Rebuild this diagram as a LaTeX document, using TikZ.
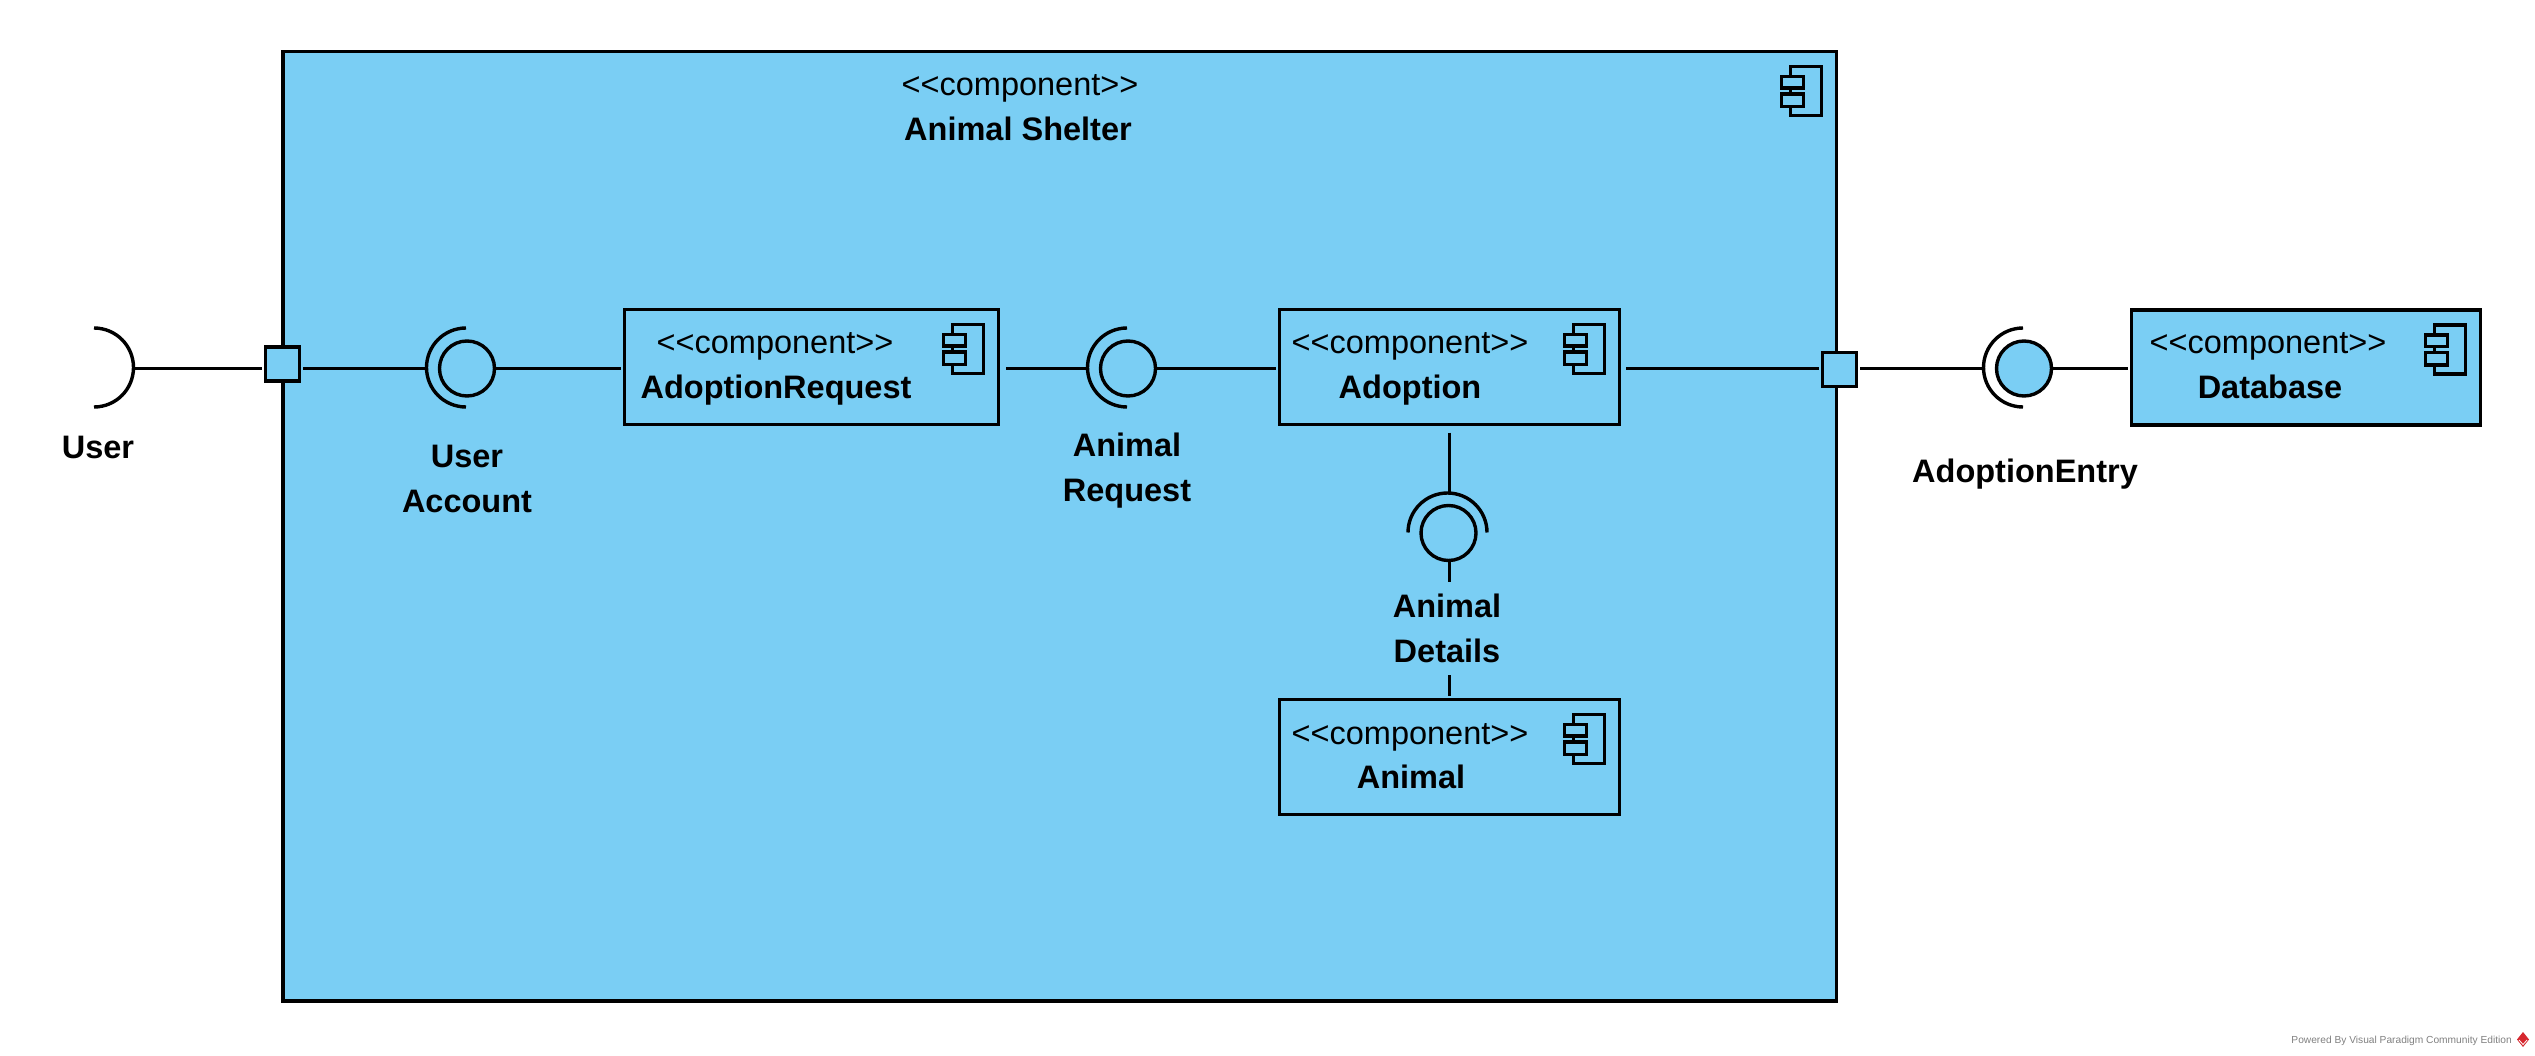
\documentclass[tikz,border=0pt]{standalone}
\usepackage{fontspec}
\setmainfont{Liberation Sans}
\definecolor{compblue}{RGB}{122,206,244}
\definecolor{vpred}{RGB}{214,40,47}
\newcommand{\stereo}{<{}<component>{}>}
\tikzset{
	compbox/.style={draw=black, fill=compblue, line width=3.4pt, rectangle, inner sep=0pt, outer sep=3.5pt},
	portbox/.style={compbox, minimum width=34pt, minimum height=34pt},
	ball/.style={draw=black, fill=compblue, line width=3.4pt, circle, inner sep=0pt, outer sep=0pt, minimum size=55pt},
	link/.style={black, line width=3.4pt},
	stereotext/.style={font=\fontsize{32.5}{45}\selectfont, anchor=base, inner sep=0pt},
	nametext/.style={font=\fontsize{32.5}{45}\selectfont\bfseries, anchor=base, inner sep=0pt, align=center},
}
\begin{document}
\begin{tikzpicture}[x=1pt,y=-1pt]
	\useasboundingbox (0,0) rectangle (2535,1056);

	% boxes
	\node[compbox, minimum width=1553.5pt, minimum height=949.5pt] (animalShelter) at (1059.75,526.25) {};
	\node[compbox, minimum width=374pt, minimum height=115pt] (adoptionRequest) at (811.5,367) {};
	\node[compbox, minimum width=340pt, minimum height=115pt] (adoption) at (1449.5,367) {};
	\node[compbox, minimum width=340pt, minimum height=115pt] (animal) at (1449.5,757) {};
	\node[compbox, minimum width=349pt, minimum height=115pt] (database) at (2306,367.5) {};
	\node[portbox] (userPort) at (282.5,364) {};
	\node[portbox] (entryPort) at (1839.5,369.5) {};

	\foreach \comp in {animalShelter,adoptionRequest,adoption,animal,database} {
		\draw[link, shift={(\comp.north east)}] (-49.5,18.5) rectangle (-18.5,67.5);
		\draw[link, fill=compblue, shift={(\comp.north east)}] (-58.5,28.5) rectangle (-36.5,40);
		\draw[link, fill=compblue, shift={(\comp.north east)}] (-58.5,46) rectangle (-36.5,58.5);
	}

	% interfaces
	\coordinate (userEnd) at (94,328);
	\coordinate (userApex) at (134,368.5);
	\coordinate (accountEnd) at (466,328);
	\coordinate (accountApex) at (427,368.5);
	\coordinate (requestEnd) at (1127,328);
	\coordinate (requestApex) at (1088,368.5);
	\coordinate (entryEnd) at (2023,328);
	\coordinate (entryApex) at (1984,368.5);
	\coordinate (detailsEnd) at (1408,532.5);
	\coordinate (detailsApex) at (1449.5,493);
	\node[ball] (accountBall) at (467,368.5) {};
	\node[ball] (requestBall) at (1128,368.5) {};
	\node[ball] (entryBall) at (2024,368.5) {};
	\node[ball] (detailsBall) at (1448.5,533) {};

	\draw[link] (userEnd) arc (90:-90:39.5pt);
	\draw[link] (accountEnd) arc (90:270:39.5pt);
	\draw[link] (requestEnd) arc (90:270:39.5pt);
	\draw[link] (entryEnd) arc (90:270:39.5pt);
	\draw[link] (detailsEnd) arc (180:0:39.5pt);

	% connectors
	\draw[link] (userApex) -- (userPort.west |- userApex);
	\draw[link] (userPort.east |- accountApex) -- (accountApex);
	\draw[link] (accountBall.east) -- (adoptionRequest.west |- accountBall.east);
	\draw[link, shorten <=4pt] (adoptionRequest.east |- requestApex) -- (requestApex);
	\draw[link] (requestBall.east) -- (adoption.west |- requestBall.east);
	\draw[link, shorten <=3pt] (adoption.east |- requestBall.east) -- (entryPort.west |- requestBall.east);
	\draw[link] (entryPort.east |- entryApex) -- (entryApex);
	\draw[link] (entryBall.east) -- (database.west |- entryBall.east);
	\draw[link, shorten <=4.5pt] (adoption.south -| detailsApex) -- (detailsApex);
	\coordinate (detailsStub) at (1449.5,582);
	\draw[link] (detailsBall.south -| detailsApex) -- (detailsStub);
	\coordinate (animalStub) at (1449.5,675);
	\draw[link] (animalStub) -- (animal.north -| animalStub);

	% labels
	\node[stereotext] (shelterStereo) at (1020,96) {\stereo};
	\node[nametext] (shelterName) at (1018,141) {Animal Shelter};
	\node[stereotext] (requestStereo) at (775,354) {\stereo};
	\node[nametext] (requestName) at (776,398.5) {AdoptionRequest};
	\node[stereotext] (adoptionStereo) at (1410,354) {\stereo};
	\node[nametext] (adoptionName) at (1410,398.5) {Adoption};
	\node[stereotext] (animalStereo) at (1410,744) {\stereo};
	\node[nametext] (animalName) at (1411,788) {Animal};
	\node[stereotext] (databaseStereo) at (2268,354) {\stereo};
	\node[nametext] (databaseName) at (2270,398.5) {Database};
	\node[nametext] (userLabel) at (98,458) {User};
	\node[nametext] (accountLabel) at (467,512) {User\\Account};
	\node[nametext] (requestLabel) at (1127,501) {Animal\\Request};
	\node[nametext] (detailsLabel) at (1447,662) {Animal\\Details};
	\node[nametext] (entryLabel) at (2025,482) {AdoptionEntry};

	% watermark
	\node[font=\fontsize{10.2}{12}\selectfont, text=gray, anchor=base east, inner sep=0pt] (poweredBy) at (2512,1043) {Powered By Visual Paradigm Community Edition};
	\fill[vpred] (2523,1032) -- (2529,1039.5) -- (2523,1047) -- (2517,1039.5) -- cycle;
	\draw[white, line width=0.8pt] (2519,1040) -- (2523,1044.5) -- (2527,1040);
\end{tikzpicture}
\end{document}
